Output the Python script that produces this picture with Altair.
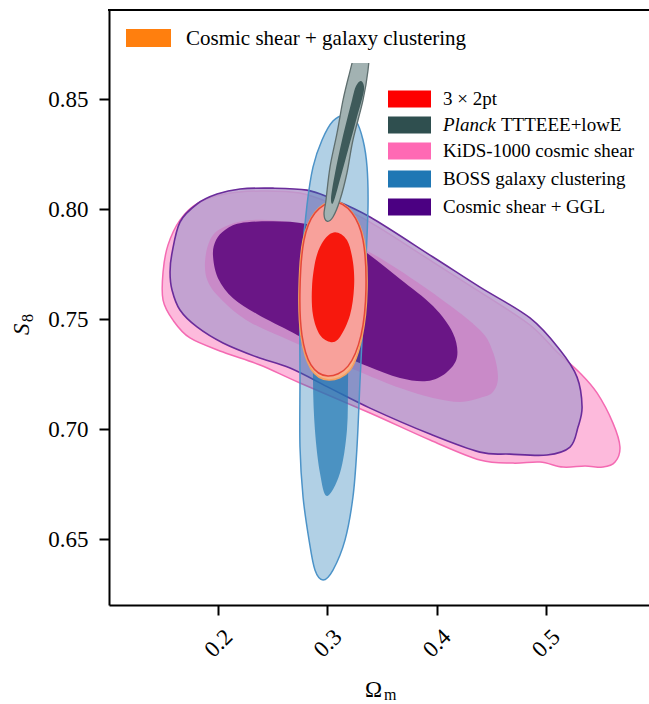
import altair as alt
import pandas as pd

FONT = "Liberation Serif"

# ---- contour vertices in (Omega_m, S_8); "outer" = 95% region, "inner" = 68% region ----
kids_outer_om = [0.1495, 0.1495, 0.1540, 0.1650, 0.1815, 0.2062, 0.2383, 0.2749, 0.3024, 0.3390,
                 0.3967, 0.4397, 0.4855, 0.5103, 0.5313, 0.5469, 0.5615, 0.5679, 0.5634, 0.5524,
                 0.5359, 0.5158, 0.4947, 0.4700, 0.4397, 0.3940, 0.3390, 0.2749, 0.2383, 0.2044,
                 0.1742, 0.1586]
kids_outer_s8 = [0.7586, 0.7714, 0.7836, 0.7950, 0.8027, 0.8068, 0.8082, 0.8073, 0.8027, 0.7941,
                 0.7759, 0.7623, 0.7473, 0.7350, 0.7255, 0.7164, 0.7027, 0.6918, 0.6850, 0.6827,
                 0.6832, 0.6827, 0.6850, 0.6845, 0.6859, 0.6950, 0.7073, 0.7209, 0.7291, 0.7350,
                 0.7414, 0.7495]

kids_inner_om = [0.1879, 0.1925, 0.2035, 0.2291, 0.2658, 0.3024, 0.3482, 0.4031, 0.4397, 0.4516,
                 0.4562, 0.4516, 0.4397, 0.4214, 0.3967, 0.3665, 0.3299, 0.2749, 0.2291, 0.2035,
                 0.1907]
kids_inner_s8 = [0.7759, 0.7859, 0.7914, 0.7950, 0.7941, 0.7895, 0.7777, 0.7595, 0.7450, 0.7350,
                 0.7236, 0.7168, 0.7141, 0.7123, 0.7141, 0.7186, 0.7259, 0.7382, 0.7486, 0.7586,
                 0.7668]

ggl_outer_om = [0.1559, 0.1577, 0.1650, 0.1806, 0.1989, 0.2200, 0.2502, 0.2813, 0.3024, 0.3390,
                0.3967, 0.4397, 0.4855, 0.5130, 0.5286, 0.5332, 0.5295, 0.5222, 0.5011, 0.4672,
                0.4397, 0.3940, 0.3390, 0.3024, 0.2658, 0.2355, 0.2044, 0.1806, 0.1650, 0.1577]
ggl_outer_s8 = [0.7714, 0.7800, 0.7941, 0.8023, 0.8068, 0.8091, 0.8095, 0.8086, 0.8050, 0.7964,
                0.7782, 0.7645, 0.7505, 0.7359, 0.7236, 0.7100, 0.7009, 0.6918, 0.6882, 0.6886,
                0.6895, 0.6977, 0.7095, 0.7186, 0.7277, 0.7327, 0.7391, 0.7464, 0.7541, 0.7632]

ggl_inner_om = [0.1952, 0.1980, 0.2062, 0.2200, 0.2502, 0.2813, 0.3115, 0.3363, 0.3665, 0.3967,
                0.4150, 0.4187, 0.4086, 0.3912, 0.3665, 0.3363, 0.3024, 0.2777, 0.2658, 0.2355,
                0.2136, 0.1998]
ggl_inner_s8 = [0.7791, 0.7859, 0.7905, 0.7936, 0.7945, 0.7932, 0.7877, 0.7800, 0.7682, 0.7559,
                0.7436, 0.7327, 0.7255, 0.7218, 0.7232, 0.7286, 0.7359, 0.7414, 0.7445, 0.7523,
                0.7595, 0.7686]

boss_outer_om = [0.2749, 0.2749, 0.2767, 0.2813, 0.2868, 0.2951, 0.3051, 0.3161, 0.3262, 0.3326,
                 0.3363, 0.3372, 0.3353, 0.3326, 0.3299, 0.3271, 0.3234, 0.3161, 0.3051, 0.2960,
                 0.2886, 0.2832, 0.2777, 0.2749]
boss_outer_s8 = [0.7223, 0.7495, 0.7768, 0.8018, 0.8191, 0.8314, 0.8400, 0.8427, 0.8400, 0.8314,
                 0.8191, 0.8018, 0.7768, 0.7495, 0.7223, 0.6918, 0.6691, 0.6495, 0.6359, 0.6314,
                 0.6359, 0.6495, 0.6691, 0.6918]

boss_inner_om = [0.2868, 0.2877, 0.2914, 0.2978, 0.3070, 0.3152, 0.3189, 0.3198, 0.3189, 0.3179,
                 0.3115, 0.2996, 0.2932, 0.2886]
boss_inner_s8 = [0.7223, 0.7495, 0.7768, 0.7927, 0.7973, 0.7914, 0.7768, 0.7495, 0.7223, 0.6995,
                 0.6800, 0.6695, 0.6800, 0.6995]

planck_outer_om = [0.3143, 0.3198, 0.3262, 0.3326, 0.3381, 0.3372, 0.3326, 0.3234, 0.3179, 0.3115,
                   0.3051, 0.2996, 0.2969, 0.2987, 0.3024, 0.3088]
planck_outer_s8 = [0.8495, 0.8609, 0.8723, 0.8759, 0.8723, 0.8632, 0.8495, 0.8314, 0.8164, 0.8041,
                   0.7964, 0.7945, 0.7977, 0.8041, 0.8191, 0.8345]

planck_inner_om = [0.3225, 0.3262, 0.3308, 0.3335, 0.3271, 0.3189, 0.3097, 0.3051, 0.3033, 0.3070,
                   0.3134]
planck_inner_s8 = [0.8495, 0.8559, 0.8582, 0.8541, 0.8418, 0.8268, 0.8100, 0.8027, 0.8050, 0.8164,
                   0.8314]

csgc_outer_om = [0.3060, 0.3225, 0.3335, 0.3363, 0.3317, 0.3207, 0.3014, 0.2850, 0.2758, 0.2740,
                 0.2777, 0.2886]
csgc_outer_s8 = [0.8036, 0.7986, 0.7859, 0.7636, 0.7418, 0.7268, 0.7223, 0.7273, 0.7423, 0.7636,
                 0.7859, 0.7986]

csgc_inner_om = [0.3070, 0.3189, 0.3244, 0.3253, 0.3216, 0.3125, 0.3033, 0.2923, 0.2859, 0.2850,
                 0.2886, 0.2960]
csgc_inner_s8 = [0.7905, 0.7864, 0.7759, 0.7645, 0.7514, 0.7409, 0.7386, 0.7418, 0.7514, 0.7645,
                 0.7782, 0.7864]

pt3x2_outer_om = [0.3060, 0.3225, 0.3326, 0.3353, 0.3308, 0.3189, 0.3005, 0.2850, 0.2767, 0.2749,
                  0.2786, 0.2886]
pt3x2_outer_s8 = [0.8032, 0.7982, 0.7859, 0.7636, 0.7427, 0.7286, 0.7241, 0.7291, 0.7427, 0.7636,
                  0.7859, 0.7982]

pt3x2_inner_om = [0.3070, 0.3179, 0.3234, 0.3244, 0.3207, 0.3115, 0.3033, 0.2932, 0.2868, 0.2859,
                  0.2896, 0.2969]
pt3x2_inner_s8 = [0.7895, 0.7859, 0.7759, 0.7645, 0.7518, 0.7418, 0.7395, 0.7427, 0.7518, 0.7645,
                  0.7777, 0.7859]

# legend entries
legend_main = ["3 \u00d7 2pt", "Planck", "KiDS-1000 cosmic shear", "BOSS galaxy clustering",
               "Cosmic shear + GGL"]
legend_colors = ["#FE0000", "#2F4F4F", "#FF69B4", "#1F77B4", "#4B0082"]
legend_top = "Cosmic shear + galaxy clustering"
legend_top_color = "#FF7F0E"

x_ticks = [0.2, 0.3, 0.4, 0.5]
y_ticks = [0.65, 0.70, 0.75, 0.80, 0.85]

# drawing order and style: (name, om, s8, fill, fill opacity, stroke, stroke width)
contours = [
    ("kids_outer", kids_outer_om, kids_outer_s8, "#FDBADC", 1.0, "#F46AB2", 1.5),
    ("ggl_outer", ggl_outer_om, ggl_outer_s8, "#B99DCF", 0.85, "#6A2C9B", 1.6),
    ("kids_inner", kids_inner_om, kids_inner_s8, "#C98AC8", 1.0, None, 0),
    ("ggl_inner", ggl_inner_om, ggl_inner_s8, "#6A1686", 1.0, None, 0),
    ("boss_outer", boss_outer_om, boss_outer_s8, "#1F77B4", 0.35, "#4C93C8", 1.5),
    ("boss_inner", boss_inner_om, boss_inner_s8, "#1F77B4", 0.7, None, 0),
    ("csgc_outer", csgc_outer_om, csgc_outer_s8, "#F8B08A", 1.0, "#F4A060", 1.5),
    ("csgc_inner", csgc_inner_om, csgc_inner_s8, "#F8501E", 1.0, None, 0),
    ("pt3x2_outer", pt3x2_outer_om, pt3x2_outer_s8, "#F8A19B", 1.0, "#E5473A", 1.5),
    ("pt3x2_inner", pt3x2_inner_om, pt3x2_inner_s8, "#F7180D", 1.0, None, 0),
    ("planck_outer", planck_outer_om, planck_outer_s8, "#A2B2B2", 1.0, "#5E6E6E", 1.3),
    ("planck_inner", planck_inner_om, planck_inner_s8, "#3E5A5A", 1.0, None, 0),
]

W, H = 540, 595
x_scale = alt.Scale(domain=[0.1, 0.5945], nice=False, zero=False)
y_scale = alt.Scale(domain=[0.620, 0.8905], nice=False, zero=False)

x_axis = alt.Axis(values=x_ticks, format=".1f", title=None, grid=False, labelAngle=315,
                  labelAlign="center", labelBaseline="middle", labelPadding=28,
                  tickSize=10, tickWidth=2, domainWidth=2, domainColor="black",
                  tickColor="black", labelFont=FONT, labelFontSize=23, labelColor="black",
                  labelOverlap=False, labelFlush=False)
y_axis = alt.Axis(values=y_ticks, format=".2f", title=None, grid=False, labelPadding=11,
                  tickSize=10, tickWidth=2, domainWidth=2, domainColor="black",
                  tickColor="black", labelFont=FONT, labelFontSize=23, labelColor="black",
                  labelOverlap=False, labelFlush=False)

layers = []
for i, (name, om, s8, fill, fop, stroke, sw) in enumerate(contours):
    df = pd.DataFrame({"om": om, "s8": s8, "k": range(len(om))})
    mark_kw = dict(interpolate="cardinal-closed", fill=fill, fillOpacity=fop)
    if stroke:
        mark_kw.update(stroke=stroke, strokeWidth=sw)
    else:
        mark_kw.update(strokeOpacity=0, strokeWidth=0)
    enc = dict(order=alt.Order("k:Q"))
    if i == 0:
        enc["x"] = alt.X("om:Q", scale=x_scale, axis=x_axis)
        enc["y"] = alt.Y("s8:Q", scale=y_scale, axis=y_axis)
    else:
        enc["x"] = alt.X("om:Q")
        enc["y"] = alt.Y("s8:Q")
    layers.append(alt.Chart(df).mark_line(**mark_kw).encode(**enc))

one = pd.DataFrame({"a": [0]})

# white backing of the upper legend
layers.append(alt.Chart(one).mark_rect(color="white").encode(
    x=alt.value(8), x2=alt.value(370), y=alt.value(3), y2=alt.value(53)))

# upper legend
layers.append(alt.Chart(one).mark_rect(color=legend_top_color).encode(
    x=alt.value(17), x2=alt.value(62), y=alt.value(19), y2=alt.value(37)))
layers.append(alt.Chart(one).mark_text(font=FONT, fontSize=21, align="left",
                                       baseline="middle", color="black").encode(
    x=alt.value(77), y=alt.value(29), text=alt.value(legend_top)))

# main legend
row_y = [89, 115, 141, 169, 197]
for i in range(len(legend_main)):
    layers.append(alt.Chart(one).mark_rect(color=legend_colors[i]).encode(
        x=alt.value(279), x2=alt.value(322),
        y=alt.value(row_y[i] - 8.5), y2=alt.value(row_y[i] + 8.5)))
    style = "italic" if legend_main[i] == "Planck" else "normal"
    layers.append(alt.Chart(one).mark_text(font=FONT, fontSize=19, align="left",
                                           baseline="middle", color="black",
                                           fontStyle=style).encode(
        x=alt.value(334), y=alt.value(row_y[i]), text=alt.value(legend_main[i])))
layers.append(alt.Chart(one).mark_text(font=FONT, fontSize=19, align="left",
                                       baseline="middle", color="black").encode(
    x=alt.value(392), y=alt.value(row_y[1]), text=alt.value("TTTEEE+lowE")))

# top spine
layers.append(alt.Chart(one).mark_rule(color="black", strokeWidth=2).encode(
    x=alt.value(-1), x2=alt.value(W), y=alt.value(0)))

# axis titles: Omega_m and S_8 with subscripts
layers.append(alt.Chart(one).mark_text(font=FONT, fontSize=23, align="left",
                                       baseline="alphabetic", color="black").encode(
    x=alt.value(256), y=alt.value(687), text=alt.value("\u03a9")))
layers.append(alt.Chart(one).mark_text(font=FONT, fontSize=16, align="left",
                                       baseline="alphabetic", color="black").encode(
    x=alt.value(275), y=alt.value(690), text=alt.value("m")))
layers.append(alt.Chart(one).mark_text(font=FONT, fontSize=23, align="left",
                                       baseline="alphabetic", color="black",
                                       fontStyle="italic", angle=270).encode(
    x=alt.value(-80), y=alt.value(325), text=alt.value("S")))
layers.append(alt.Chart(one).mark_text(font=FONT, fontSize=16, align="left",
                                       baseline="alphabetic", color="black",
                                       angle=270).encode(
    x=alt.value(-76), y=alt.value(312), text=alt.value("8")))

chart = alt.layer(*layers).properties(
    width=W, height=H,
    autosize=alt.AutoSizeParams(type="none"),
    padding={"left": 109, "top": 10, "right": 0, "bottom": 99},
    background="white",
).configure_view(stroke=None)

chart.save("out.html", embed_options={"renderer": "svg", "actions": False})
